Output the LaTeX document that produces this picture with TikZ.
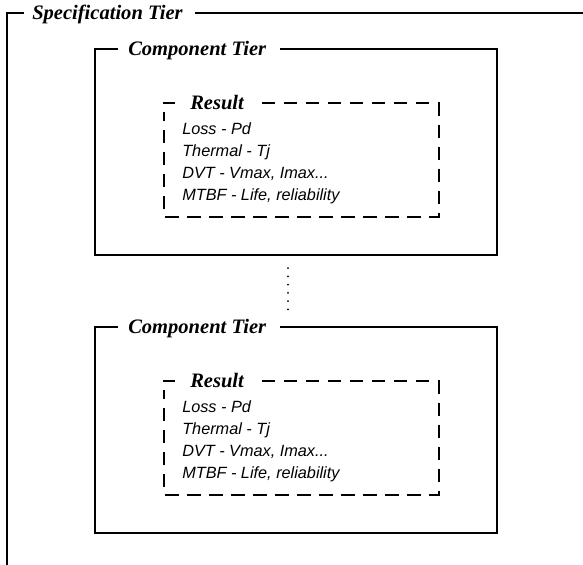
\documentclass[tikz,border=0pt]{standalone}
\usepackage{fontspec}
\setmainfont{Liberation Serif}
\newfontfamily\listfont{Liberation Sans}
\tikzset{
  frame/.style={line width=1.5pt},
  dashframe/.style={line width=1.5pt, dash pattern=on 10pt off 6.5pt},
  tiertitle/.style={anchor=base west, inner sep=0pt,
    font=\fontsize{15.4}{18}\selectfont\bfseries\itshape},
  item/.style={anchor=base west, inner sep=0pt,
    font=\listfont\fontsize{12.2}{14}\selectfont\itshape},
  vdots/.style={line width=1.5pt, line cap=round, dash pattern=on 0pt off 6.2pt},
}
\begin{document}
\begin{tikzpicture}[x=0.75pt, y=-0.75pt]
\useasboundingbox (0,0) rectangle (583,565);

% outer specification frame (top and left edges only)
\node[tiertitle] (spec) at (32,19.7) {Specification Tier};
\draw[frame] (24,13) -- (7,13) -- (7,565);
\draw[frame] (195,13) -- (583,13);

% two component tiers, each holding a result block
\foreach \dy/\k in {0/1, 278/2}{
  \node[tiertitle] (comp\k) at (128,49+6.7+\dy) {Component Tier};
  \draw[frame] (118,49+\dy) -- (95,49+\dy) -- (95,254.5+\dy) -- (497,254.5+\dy)
               -- (497,49+\dy) -- (280,49+\dy);

  \node[tiertitle] (res\k) at (190,103+6.7+\dy) {Result};
  \draw[frame] (163,103+\dy) -- (175,103+\dy);
  \draw[dashframe] (262,103+\dy) -- (438.5,103+\dy) -- (438.5,216.5+\dy)
                   -- (164,216.5+\dy) -- (164,112+\dy);

  \node[item] (loss\k)    at (182,134+\dy) {Loss - Pd};
  \node[item] (thermal\k) at (182,156+\dy) {Thermal - Tj};
  \node[item] (dvt\k)     at (182,178+\dy) {DVT - Vmax, Imax...};
  \node[item] (mtbf\k)    at (182,200+\dy) {MTBF - Life, reliability};
}

% ellipsis between the tiers
\coordinate (gapTop) at (288,268);
\coordinate (gapBot) at (288,310);
\draw[vdots] (gapTop) -- (gapBot);
\end{tikzpicture}
\end{document}
